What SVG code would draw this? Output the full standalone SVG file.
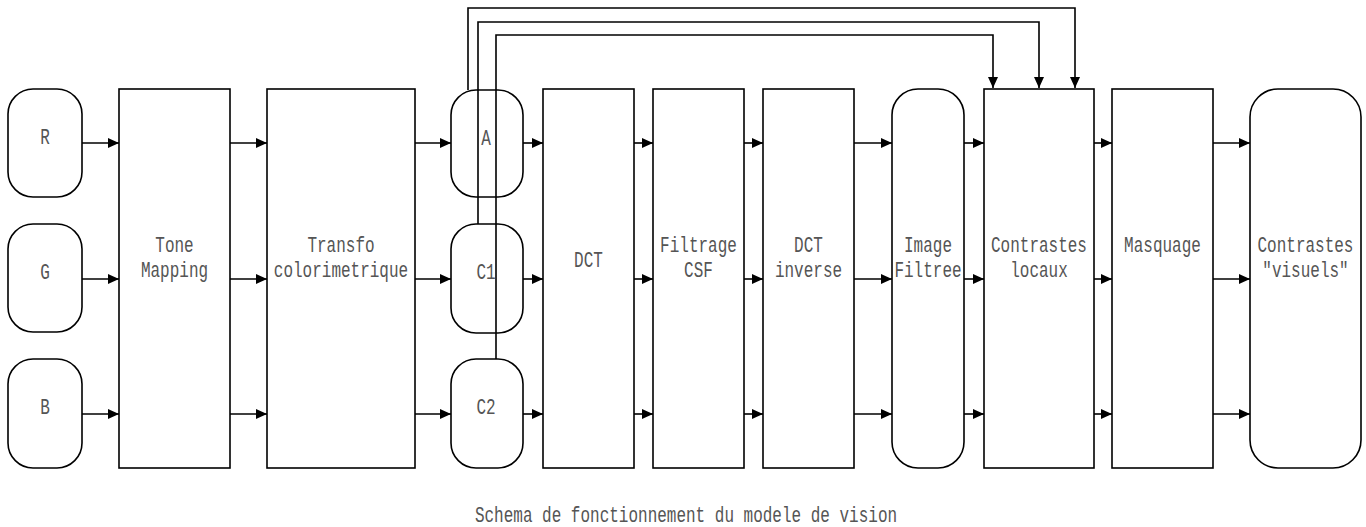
<svg xmlns="http://www.w3.org/2000/svg" width="1366" height="527" viewBox="0 0 1366 527">
<defs>
<marker id="ah" markerUnits="userSpaceOnUse" markerWidth="12" markerHeight="10" refX="11" refY="5" orient="auto">
<path d="M0,0 L11,5 L0,10 z" fill="#000"/>
</marker>
<style>
.n{fill:#fff;stroke:#000;stroke-width:1.6}
.c{fill:none;stroke:#000;stroke-width:1.6}
.a{marker-end:url(#ah)}
text{font-family:"Liberation Mono","Courier New",monospace;font-size:16px;fill:#555;text-anchor:middle}
</style>
</defs>
<rect width="1366" height="527" fill="#fff"/>
<g id="nodes">
<g id="R"><rect class="n" x="8" y="89" width="74" height="108" rx="25"/><text transform="translate(45,144) scale(1,1.33)">R</text></g>
<g id="G"><rect class="n" x="8" y="224" width="74" height="108" rx="25"/><text transform="translate(45,279) scale(1,1.33)">G</text></g>
<g id="B"><rect class="n" x="8" y="359" width="74" height="109" rx="25"/><text transform="translate(45,414) scale(1,1.33)">B</text></g>
<g id="tone"><rect class="n" x="119" y="89" width="111" height="379"/><text transform="translate(174.5,252) scale(1,1.33)">Tone</text><text transform="translate(174.5,277) scale(1,1.33)">Mapping</text></g>
<g id="transfo"><rect class="n" x="267" y="89" width="148" height="379"/><text transform="translate(341,252) scale(1,1.33)">Transfo</text><text transform="translate(341,277) scale(1,1.33)">colorimetrique</text></g>
<g id="DCT"><rect class="n" x="543" y="89" width="91" height="379"/><text transform="translate(588.5,267) scale(1,1.33)">DCT</text></g>
<g id="filtrage"><rect class="n" x="653" y="89" width="91" height="379"/><text transform="translate(698.5,252) scale(1,1.33)">Filtrage</text><text transform="translate(698.5,277) scale(1,1.33)">CSF</text></g>
<g id="dctinv"><rect class="n" x="763" y="89" width="91" height="379"/><text transform="translate(808.5,252) scale(1,1.33)">DCT</text><text transform="translate(808.5,277) scale(1,1.33)">inverse</text></g>
<g id="imgfilt"><rect class="n" x="892" y="89" width="72" height="379" rx="26"/><text transform="translate(928,252) scale(1,1.33)">Image</text><text transform="translate(928,277) scale(1,1.33)">Filtree</text></g>
<g id="contloc"><rect class="n" x="984" y="89" width="110" height="379"/><text transform="translate(1039,252) scale(1,1.33)">Contrastes</text><text transform="translate(1039,277) scale(1,1.33)">locaux</text></g>
<g id="masq"><rect class="n" x="1112" y="89" width="101" height="379"/><text transform="translate(1162.5,252) scale(1,1.33)">Masquage</text></g>
<g id="contvis"><rect class="n" x="1250" y="89" width="111" height="379" rx="28"/><text transform="translate(1305.5,252) scale(1,1.33)">Contrastes</text><text transform="translate(1305.5,277) scale(1,1.33)">"visuels"</text></g>
</g>
<g id="connectors">
<path class="c a" d="M468,90 V8 H1075 V88"/>
<path class="c a" d="M478,224 V22 H1039 V88"/>
<path class="c a" d="M496,359 V35 H993 V88"/>
<path class="c a" d="M82,143 H119"/><path class="c a" d="M82,279 H119"/><path class="c a" d="M82,414 H119"/>
<path class="c a" d="M230,143 H267"/><path class="c a" d="M230,279 H267"/><path class="c a" d="M230,414 H267"/>
<path class="c a" d="M415,143 H451"/><path class="c a" d="M415,279 H451"/><path class="c a" d="M415,414 H451"/>
<path class="c a" d="M523,143 H543"/><path class="c a" d="M523,279 H543"/><path class="c a" d="M523,414 H543"/>
<path class="c a" d="M634,143 H653"/><path class="c a" d="M634,279 H653"/><path class="c a" d="M634,414 H653"/>
<path class="c a" d="M744,143 H763"/><path class="c a" d="M744,279 H763"/><path class="c a" d="M744,414 H763"/>
<path class="c a" d="M854,143 H892"/><path class="c a" d="M854,279 H892"/><path class="c a" d="M854,414 H892"/>
<path class="c a" d="M964,143 H984"/><path class="c a" d="M964,279 H984"/><path class="c a" d="M964,414 H984"/>
<path class="c a" d="M1094,143 H1112"/><path class="c a" d="M1094,279 H1112"/><path class="c a" d="M1094,414 H1112"/>
<path class="c a" d="M1213,143 H1250"/><path class="c a" d="M1213,279 H1250"/><path class="c a" d="M1213,414 H1250"/>
</g>
<g id="nodes-abc">
<g id="A"><rect class="n" x="451" y="90" width="72" height="107" rx="25" style="fill:none"/><text transform="translate(486,145) scale(1,1.33)">A</text></g>
<g id="C1"><rect class="n" x="451" y="224" width="72" height="109" rx="25" style="fill:none"/><text transform="translate(486,279) scale(1,1.33)">C1</text></g>
<g id="C2"><rect class="n" x="451" y="359" width="72" height="109" rx="25" style="fill:none"/><text transform="translate(486,414) scale(1,1.33)">C2</text></g>
</g>
<text id="title" transform="translate(686,522) scale(1,1.33)">Schema de fonctionnement du modele de vision</text>
</svg>
